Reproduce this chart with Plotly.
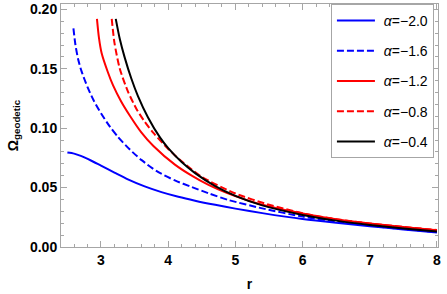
import plotly.graph_objects as go

# alpha = -2.0 (blue solid)
r_a20 = [2.5, 2.6, 2.7, 2.85, 3.0, 3.2, 3.4, 3.65, 3.9, 4.15, 4.4, 4.7, 5.0, 5.4, 6.0, 6.5, 7.0, 7.5, 8.0]
w_a20 = [0.0795, 0.0786, 0.0767, 0.0728, 0.0684, 0.0626, 0.0569, 0.0510, 0.0462, 0.0423, 0.0390, 0.0355, 0.0323, 0.0285, 0.0235, 0.0203, 0.0175, 0.0148, 0.0123]

# alpha = -1.6 (blue dashed)
r_a16 = [2.59, 2.62, 2.66, 2.71, 2.8, 2.89, 3.0, 3.13, 3.25, 3.43, 3.6, 3.83, 4.1, 4.35, 4.6, 4.9, 5.4, 6.0, 6.5, 7.0, 7.5, 8.0]
w_a16 = [0.184, 0.170, 0.158, 0.148, 0.1345, 0.1235, 0.1125, 0.1015, 0.0928, 0.0820, 0.0733, 0.0638, 0.0560, 0.0505, 0.0452, 0.0395, 0.0325, 0.0256, 0.0214, 0.0180, 0.0151, 0.0126]

# alpha = -1.2 (red solid)
r_a12 = [2.94, 2.97, 3.01, 3.1, 3.18, 3.3, 3.43, 3.6, 3.78, 4.1, 4.35, 4.6, 4.87, 5.37, 6.0, 6.5, 7.0, 7.5, 8.0]
w_a12 = [0.192, 0.176, 0.163, 0.1475, 0.136, 0.1225, 0.1105, 0.0965, 0.0850, 0.0693, 0.0600, 0.0522, 0.0455, 0.0360, 0.0282, 0.0233, 0.0197, 0.0168, 0.0142]

# alpha = -0.8 (red dashed)
r_a08 = [3.16, 3.2, 3.28, 3.4, 3.53, 3.65, 3.78, 4.0, 4.2, 4.5, 5.0, 5.5, 6.0, 6.5, 7.0, 7.5, 8.0]
w_a08 = [0.192, 0.172, 0.150, 0.131, 0.116, 0.1055, 0.0960, 0.0825, 0.0722, 0.0590, 0.0450, 0.0356, 0.0284, 0.0234, 0.0198, 0.0169, 0.0143]

# alpha = -0.4 (black solid)
r_a04 = [3.22, 3.28, 3.35, 3.45, 3.55, 3.7, 3.88, 4.0, 4.2, 4.4, 4.7, 5.0, 5.4, 6.0, 6.5, 7.0, 7.5, 8.0]
w_a04 = [0.192, 0.175, 0.160, 0.142, 0.127, 0.109, 0.092, 0.0832, 0.0715, 0.0622, 0.0512, 0.0430, 0.0350, 0.0270, 0.0222, 0.0186, 0.0156, 0.0131]

labels = ["−2.0", "−1.6", "−1.2", "−0.8", "−0.4"]

x_ticks = [3, 4, 5, 6, 7, 8]
y_ticks = [0.00, 0.05, 0.10, 0.15, 0.20]
y_tick_text = ["0.00", "0.05", "0.10", "0.15", "0.20"]

series = [
    (r_a20, w_a20, labels[0], "#0000ff", "solid"),
    (r_a16, w_a16, labels[1], "#0000ff", "7px,3px"),
    (r_a12, w_a12, labels[2], "#ff0000", "solid"),
    (r_a08, w_a08, labels[3], "#ff0000", "7px,3px"),
    (r_a04, w_a04, labels[4], "#000000", "solid"),
]

fig = go.Figure()
for i, (rr, ww, lab, col, dash) in enumerate(series):
    fig.add_trace(go.Scatter(
        x=rr, y=ww, mode="lines",
        line=dict(color=col, width=2, dash=dash, shape="spline", smoothing=0.7),
        name="\u00a0<i>α</i>=" + lab,
        legendgroup="g%d" % i,
    ))

frame = "#a6a6a6"
tickfont = dict(family="Liberation Sans, Arial", size=14, color="black", weight="bold")

fig.update_layout(
    width=447, height=294,
    margin=dict(l=61, r=9, t=4, b=47),
    plot_bgcolor="white", paper_bgcolor="white",
    showlegend=True,
    legend=dict(
        x=0.716, y=1.0, xanchor="left", yanchor="top",
        bgcolor="white", bordercolor=frame, borderwidth=1,
        font=dict(family="Liberation Sans, Arial", size=14, color="black"),
        traceorder="grouped", tracegroupgap=9,
        itemwidth=38,
    ),
    xaxis=dict(
        range=[2.405, 8.015], automargin=False,
        tickvals=x_ticks, ticktext=[str(v) for v in x_ticks],
        showgrid=False, zeroline=False,
        showline=True, linecolor=frame, linewidth=1, mirror="allticks",
        ticks="inside", ticklen=6, tickcolor=frame, tickwidth=1,
        minor=dict(ticks="inside", ticklen=3, tickcolor=frame, dtick=0.2, tick0=3, showgrid=False),
        tickfont=tickfont,
        title=dict(text="r", font=dict(family="Liberation Sans, Arial", size=14, color="black", weight="bold"), standoff=12),
    ),
    yaxis=dict(
        range=[0, 0.2045], automargin=False,
        tickvals=y_ticks, ticktext=y_tick_text,
        showgrid=False, zeroline=False,
        showline=True, linecolor=frame, linewidth=1, mirror="allticks",
        ticks="inside", ticklen=6, tickcolor=frame, tickwidth=1,
        minor=dict(ticks="inside", ticklen=3, tickcolor=frame, dtick=0.01, tick0=0, showgrid=False),
        tickfont=tickfont,
        title=dict(text="Ω<sub>geodetic</sub>", font=dict(family="Liberation Sans, Arial", size=14, color="black", weight="bold"), standoff=8),
    ),
)

fig.write_html(
    "out.html",
    config={"displayModeBar": False},
    post_script="document.body.style.margin='0';document.body.style.overflow='hidden';",
)
